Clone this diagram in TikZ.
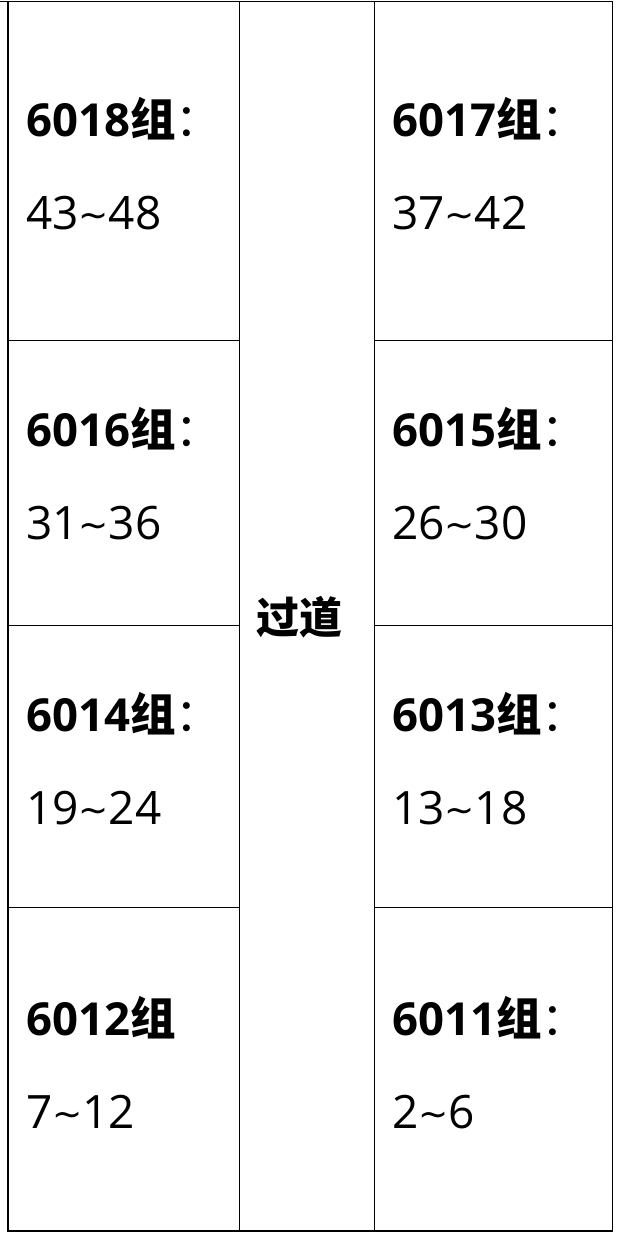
\documentclass[tikz,border=0pt]{standalone}
\usepackage{fontspec}
\setmainfont{Open Sans}
\newfontfamily\cjk{Noto Sans CJK SC}
\newfontfamily\tildefont{DejaVu Sans}
\newcommand{\tld}{\raisebox{2pt}{\tildefont\fontsize{36}{44}\selectfont\char`~}}
\begin{document}
\begin{tikzpicture}[x=1pt,y=-1pt,
  grid/.style={line width=1.6pt,black},
  lbl/.style={anchor=base west,inner sep=0pt,font=\fontsize{45.5}{56}\selectfont\bfseries},
  rng/.style={anchor=base west,inner sep=0pt,font=\fontsize{46}{56}\selectfont}]
\useasboundingbox (0,0) rectangle (616,1236);
\fill[white] (0,0) rectangle (616,1236);
% outer frame
\draw[grid] (0,1.5) -- (612.5,1.5);
\draw[grid] (8,1.5) -- (8,1231) -- (612.5,1231) -- (612.5,1.5);
\draw[grid] (239.5,1.5) -- (239.5,1231);
\draw[grid] (374.5,1.5) -- (374.5,1231);
\foreach \yy in {340.5,625.5,907.5}{
  \draw[grid] (8,\yy) -- (239.5,\yy);
  \draw[grid] (374.5,\yy) -- (612.5,\yy);
}
% aisle
\node[inner sep=0pt,font=\fontsize{43}{52}\selectfont\bfseries\cjk] (aisle) at (299,617) {过道};
% row 1
\node[lbl] (l1) at (26,136) {6018{\cjk 组}{\mdseries\cjk ：}};
\node[rng] (r1) at (26,229) {43\tld 48};
\node[lbl] (l2) at (392,136) {6017{\cjk 组}{\mdseries\cjk ：}};
\node[rng] (r2) at (392,229) {37\tld 42};
% row 2
\node[lbl] (l3) at (26,446) {6016{\cjk 组}{\mdseries\cjk ：}};
\node[rng] (r3) at (26,539) {31\tld 36};
\node[lbl] (l4) at (392,446) {6015{\cjk 组}{\mdseries\cjk ：}};
\node[rng] (r4) at (392,539) {26\tld 30};
% row 3
\node[lbl] (l5) at (26,731) {6014{\cjk 组}{\mdseries\cjk ：}};
\node[rng] (r5) at (26,824) {19\tld 24};
\node[lbl] (l6) at (392,731) {6013{\cjk 组}{\mdseries\cjk ：}};
\node[rng] (r6) at (392,824) {13\tld 18};
% row 4
\node[lbl] (l7) at (26,1035) {6012{\cjk 组}};
\node[rng] (r7) at (26,1128) {7\tld 12};
\node[lbl] (l8) at (392,1035) {6011{\cjk 组}{\mdseries\cjk ：}};
\node[rng] (r8) at (392,1128) {2\tld 6};
\end{tikzpicture}
\end{document}
